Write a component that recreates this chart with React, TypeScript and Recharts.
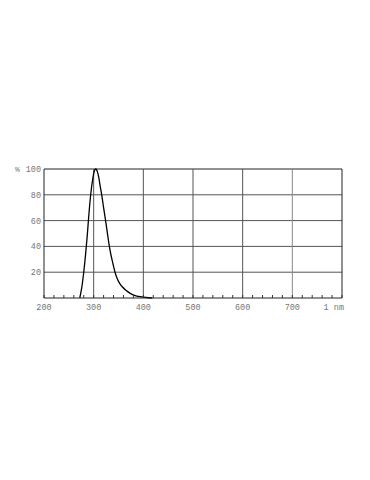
import React from 'react';
import { LineChart, Line, XAxis, YAxis, ReferenceLine } from 'recharts';

const wavelength = [272, 276, 280, 284, 287, 290, 294, 298, 301, 304, 307, 310, 313, 317, 320, 324, 327, 330, 333, 338, 343, 348, 352, 358, 365, 372, 382, 390, 400, 410, 418];
const intensity = [0, 8, 20, 35, 48, 63, 80, 92, 98, 100, 98.5, 94, 87, 78, 70, 60, 52, 44, 37, 28, 20, 14.5, 11.5, 8.5, 6, 4, 2, 1.2, 0.6, 0.2, 0];

const xMajorTicks = [200, 300, 400, 500, 600, 700, 800];
const xMinorTicks = [200, 220, 240, 260, 280, 300, 320, 340, 360, 380, 400, 420, 440, 460, 480, 500, 520, 540, 560, 580, 600, 620, 640, 660, 680, 700, 720, 740, 760, 780, 800];
const yTicks = [20, 40, 60, 80, 100];

const data = wavelength.map((w, i) => ({ nm: w, value: intensity[i] }));

const FONT = '"Liberation Mono", "DejaVu Sans Mono", monospace';

const XTick = ({ x, y, payload }: any) => {
  const v = payload.value;
  const major = xMajorTicks.includes(v);
  return (
    <g>
      <line x1={x} x2={x} y1={y} y2={y - 3} stroke="#333" strokeWidth={1} />
      {major && (
        <text
          x={v === 800 ? x + 2 : x}
          y={y + 12}
          textAnchor={v === 800 ? 'end' : 'middle'}
          fontFamily={FONT}
          fontSize={8.5}
          fill="#777"
        >
          {v === 800 ? '1 nm' : v}
        </text>
      )}
    </g>
  );
};

const App: React.FC = () => {
  return (
    <div style={{ position: 'absolute', left: 0, top: 0, width: 370, height: 480, background: '#fff' }}>
      <div style={{ position: 'absolute', left: 15, top: 165, fontFamily: FONT, fontSize: 8, color: '#777' }}>%</div>
      <LineChart width={370} height={480} data={data} margin={{ top: 169, right: 28, left: 10, bottom: 162 }}>
        <XAxis
          dataKey="nm"
          type="number"
          domain={[200, 800]}
          ticks={xMinorTicks}
          interval={0}
          tickLine={false}
          tickSize={0}
          tickMargin={0}
          height={20}
          axisLine={{ stroke: '#222' }}
          tick={<XTick />}
        />
        <YAxis
          type="number"
          domain={[0, 100]}
          ticks={yTicks}
          width={34}
          tickLine={false}
          tickSize={0}
          tickMargin={3}
          axisLine={{ stroke: '#222' }}
          tick={{ fontFamily: FONT, fontSize: 8.5, fill: '#777' }}
        />
        {yTicks.map((t) => (
          <ReferenceLine key={'h' + t} y={t} stroke={t === 100 ? '#222' : '#555'} strokeWidth={1} />
        ))}
        {xMajorTicks.slice(1).map((t) => (
          <ReferenceLine key={'v' + t} x={t} stroke={t === 800 ? '#222' : t === 700 ? '#888' : '#555'} strokeWidth={1} />
        ))}
        <Line
          type="monotone"
          dataKey="value"
          stroke="#000"
          strokeWidth={1.3}
          dot={false}
          isAnimationActive={false}
        />
      </LineChart>
    </div>
  );
};

export default App;
